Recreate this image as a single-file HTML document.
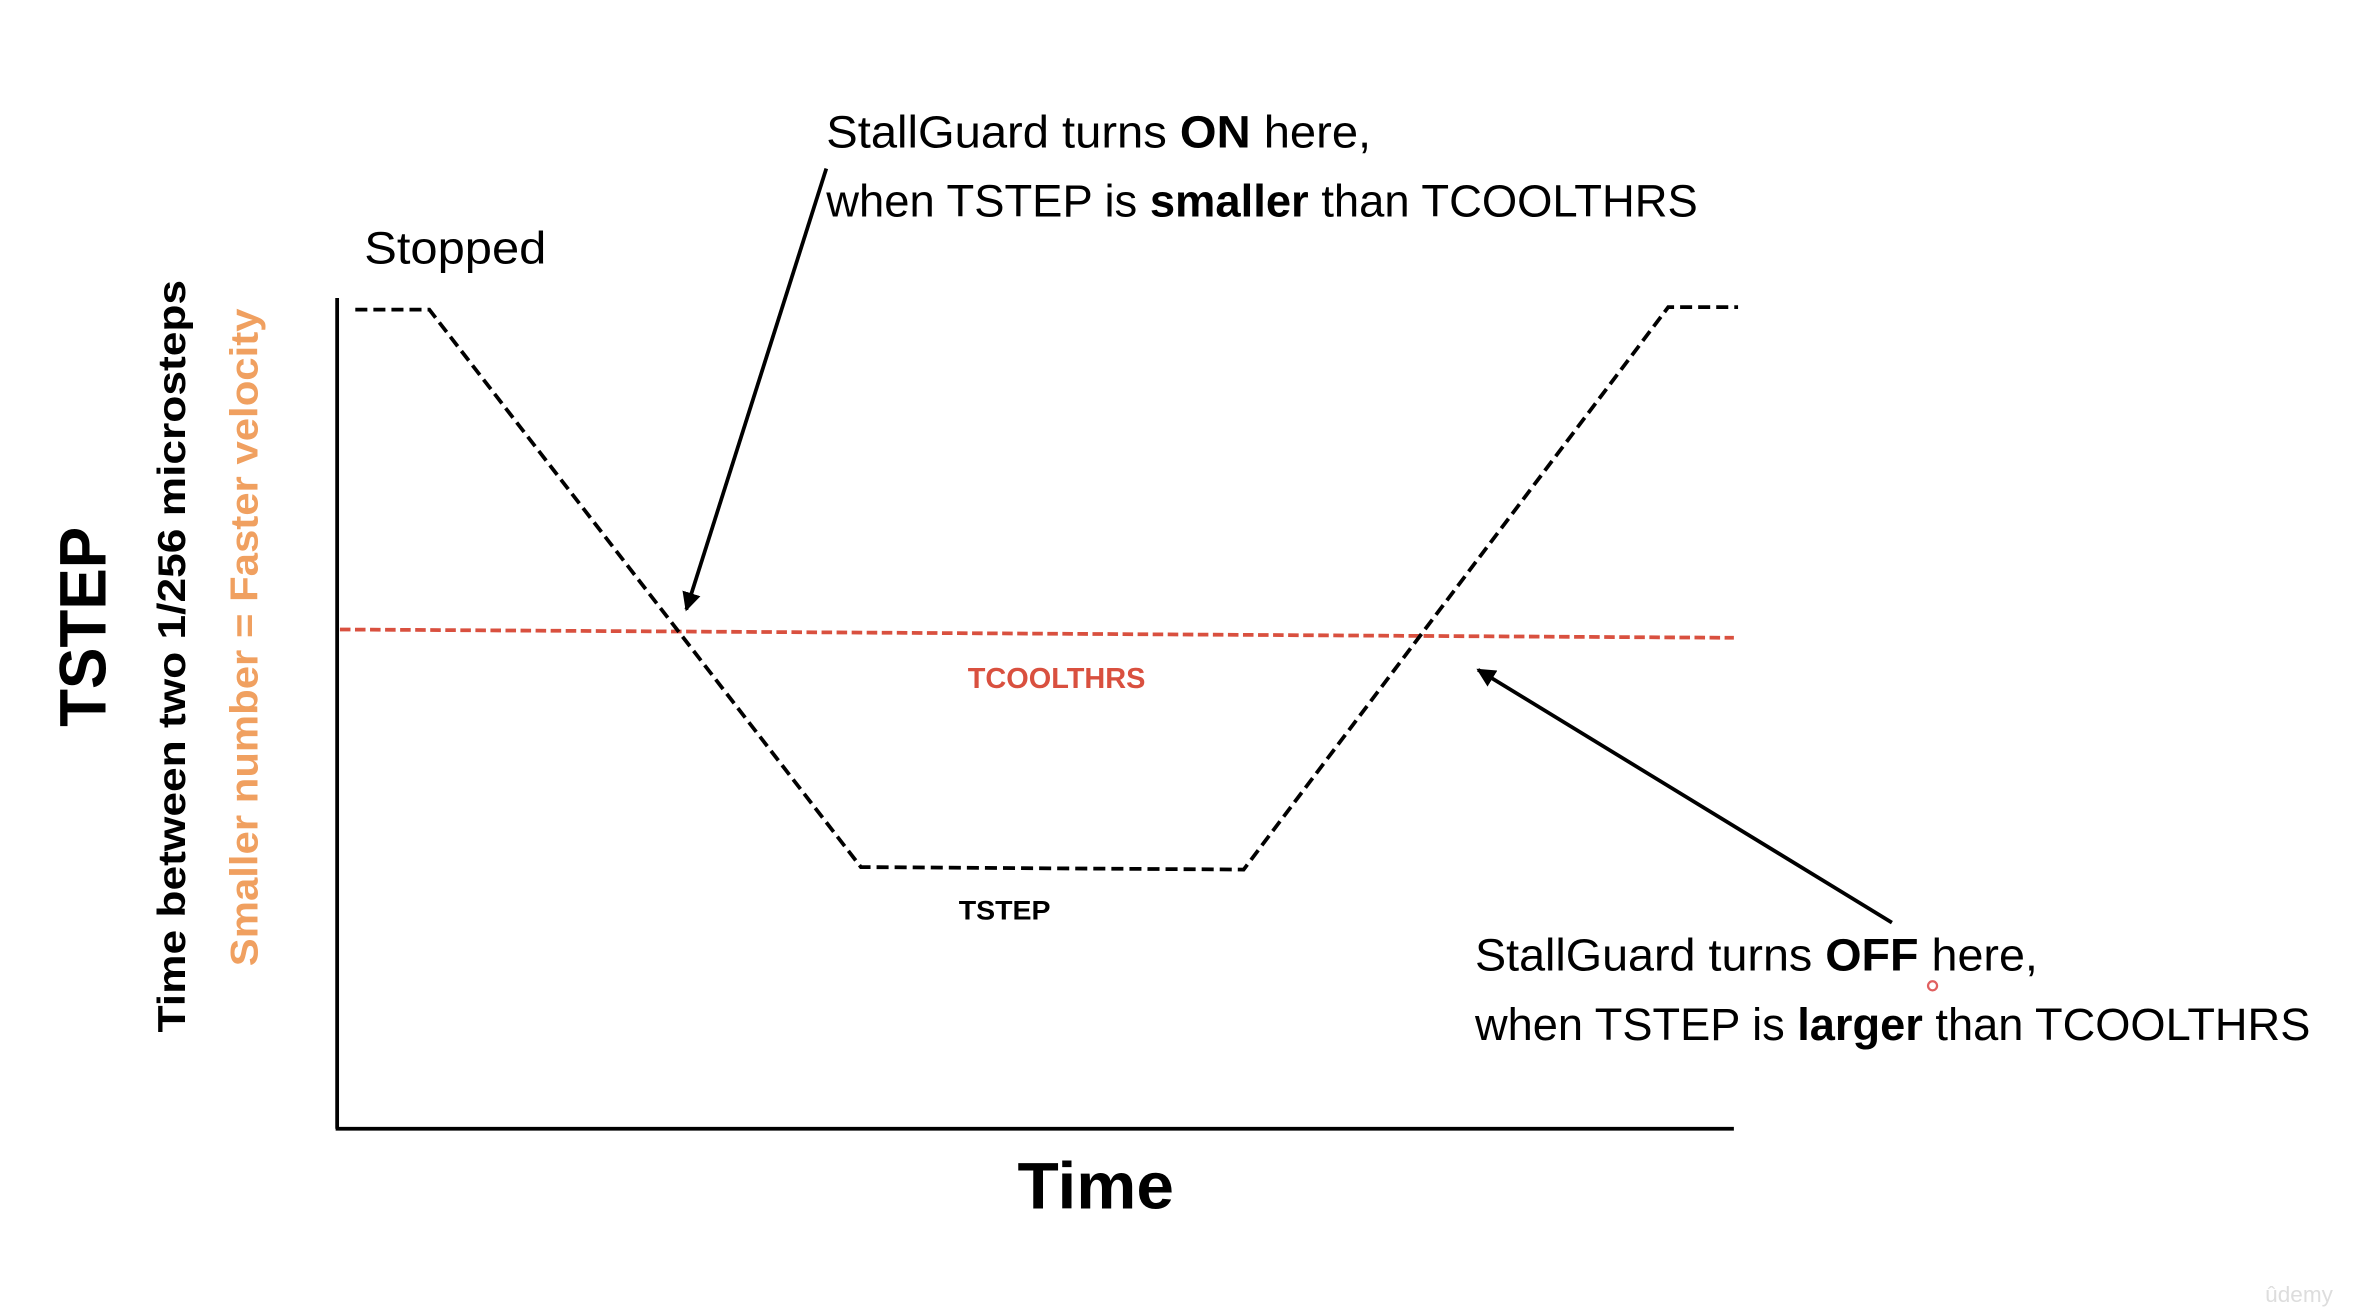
<!DOCTYPE html>
<html><head><meta charset="utf-8"><style>
html,body{margin:0;padding:0;background:#fff;}
svg{display:block;}
text{font-family:"Liberation Sans",sans-serif;}
</style></head><body>
<svg id="chart" width="2360" height="1313" viewBox="0 0 1568 872.4" preserveAspectRatio="none" xmlns="http://www.w3.org/2000/svg">
<defs>
<marker id="ah" viewBox="0 0 10 10" refX="9" refY="5" markerWidth="5" markerHeight="5" orient="auto"><path d="M0,0 L10,5 L0,10 z" fill="#000"/></marker>
</defs>
<rect width="1568" height="872.4" fill="#fff"/>
<line x1="224" y1="198" x2="224" y2="750" stroke="#000" stroke-width="2.5"/>
<line x1="223" y1="750" x2="1152" y2="750" stroke="#000" stroke-width="2.5"/>
<g id="marks"></g>
<text x="242" y="175" font-size="30" textLength="121" lengthAdjust="spacingAndGlyphs">Stopped</text>
<text x="643" y="457" font-size="19" font-weight="bold" fill="#d9503f" textLength="118" lengthAdjust="spacingAndGlyphs">TCOOLTHRS</text>
<text x="637" y="611" font-size="18" font-weight="bold" textLength="61" lengthAdjust="spacingAndGlyphs">TSTEP</text>
<text x="676" y="803" font-size="44" font-weight="bold" textLength="104" lengthAdjust="spacingAndGlyphs">Time</text>
<text transform="translate(70,483) rotate(-90)" font-size="44" font-weight="bold" textLength="133" lengthAdjust="spacingAndGlyphs">TSTEP</text>
<text transform="translate(123,686) rotate(-90)" font-size="26" font-weight="bold" textLength="500" lengthAdjust="spacingAndGlyphs">Time between two 1/256 microsteps</text>
<text transform="translate(171,642) rotate(-90)" font-size="26" font-weight="bold" fill="#f0a060" textLength="437" lengthAdjust="spacingAndGlyphs">Smaller number = Faster velocity</text>
<g>
<text x="549" y="98" font-size="30" textLength="362" lengthAdjust="spacingAndGlyphs">StallGuard turns <tspan font-weight="bold">ON</tspan> here,</text>
<text x="549" y="144" font-size="30" textLength="579" lengthAdjust="spacingAndGlyphs">when TSTEP is <tspan font-weight="bold">smaller</tspan> than TCOOLTHRS</text>
<line x1="549" y1="112" x2="456" y2="405" stroke="#000" stroke-width="2.5" marker-end="url(#ah)"/>
</g>
<g>
<text x="980" y="645" font-size="30" textLength="374" lengthAdjust="spacingAndGlyphs">StallGuard turns <tspan font-weight="bold">OFF</tspan> here,</text>
<text x="980" y="691" font-size="30" textLength="555" lengthAdjust="spacingAndGlyphs">when TSTEP is <tspan font-weight="bold">larger</tspan> than TCOOLTHRS</text>
<line x1="1257" y1="613" x2="982" y2="445" stroke="#000" stroke-width="2.5" marker-end="url(#ah)"/>
</g>
<circle cx="1284" cy="655" r="3" fill="none" stroke="#e06060" stroke-width="1.5"/>
<text x="1505" y="865" font-size="15" fill="#ddd">ûdemy</text>
</svg>
<script>
const timePoints = [1.3, 6.6, 37.5, 64.9, 95.3, 100.3];
const tstepValues = [98.6, 98.6, 31.5, 31.2, 98.9, 98.9];
const thresholdTimes = [0.2, 100];
const thresholdValues = [60.1, 59.1];
const xs = t => 224 + t * (1152 - 224) / 100;
const ys = v => 750 - v * (750 - 198) / 100;
const g = document.getElementById('marks');
const ns = 'http://www.w3.org/2000/svg';
const red = document.createElementNS(ns, 'polyline');


red.setAttribute('points', thresholdTimes.map((t, i) => xs(t) + ',' + ys(thresholdValues[i])).join(' '));
red.setAttribute('fill', 'none');
red.setAttribute('stroke', '#d9503f');
red.setAttribute('stroke-width', '2.5');
red.setAttribute('stroke-dasharray', '7 3');
g.appendChild(red);
const line = document.createElementNS(ns, 'polyline');


line.setAttribute('points', timePoints.map((t, i) => xs(t) + ',' + ys(tstepValues[i])).join(' '));
line.setAttribute('fill', 'none');
line.setAttribute('stroke', '#000');
line.setAttribute('stroke-width', '2.5');
line.setAttribute('stroke-dasharray', '8 4');
g.appendChild(line);
</script>
</body></html>
